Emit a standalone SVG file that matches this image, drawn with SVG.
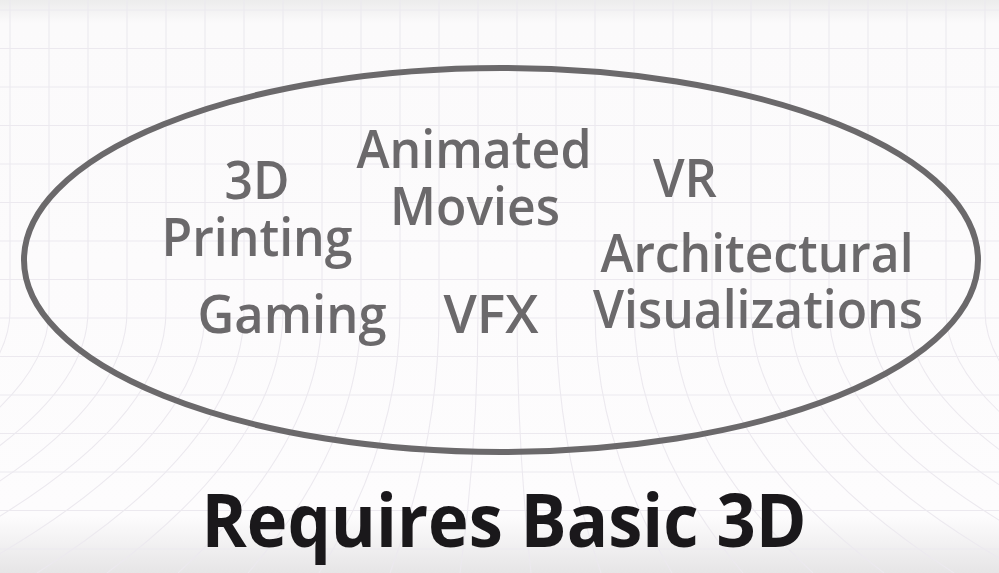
<svg xmlns="http://www.w3.org/2000/svg" width="999" height="573" viewBox="0 0 999 573">
<defs>
<linearGradient id="bg" x1="0" y1="0" x2="0" y2="1">
<stop offset="0" stop-color="#ececec"/>
<stop offset="0.04" stop-color="#fbfafb"/>
<stop offset="0.9" stop-color="#fdfcfd"/>
<stop offset="1" stop-color="#e6e5e6"/>
</linearGradient>
<style>
.grid{fill:none;stroke:#ece9ef;stroke-width:1.1}
.lbl{font-family:"Open Sans","Noto Sans",sans-serif;font-weight:600;font-size:52px;fill:#6b696b;text-anchor:middle}
.title{font-family:"Open Sans","Noto Sans",sans-serif;font-weight:700;font-size:73px;fill:#1a181b;text-anchor:middle}
</style>
</defs>
<rect x="0" y="0" width="999" height="573" fill="url(#bg)"/>
<g id="grid" class="grid">
<path d="M10 0V311Q10 442 -387 573M49 0V311Q49 442 -316 573M88 0V311Q88 442 -246 573M127 0V311Q127 442 -175 573M166 0V311Q166 442 -105 573M205 0V311Q205 442 -34 573M244 0V311Q244 442 37 573M283 0V311Q283 442 107 573M322 0V311Q322 442 178 573M361 0V311Q361 442 248 573M400 0V311Q400 442 319 573M439 0V311Q439 442 390 573M478 0V311Q478 442 460 573M517 0V311Q517 442 531 573M556 0V311Q556 442 601 573M595 0V311Q595 442 672 573M634 0V311Q634 442 743 573M673 0V311Q673 442 813 573M712 0V311Q712 442 884 573M751 0V311Q751 442 954 573M790 0V311Q790 442 1025 573M829 0V311Q829 442 1096 573M868 0V311Q868 442 1166 573M907 0V311Q907 442 1237 573M946 0V311Q946 442 1307 573M985 0V311Q985 442 1378 573"/>
<path d="M0 10H999M0 48.5H999M0 87H999M0 125.5H999M0 164H999M0 202.5H999M0 241H999M0 279.5H999M0 318H999M0 356.5H999M0 395H999M0 433.5H999M0 472H999M0 510.5H999M0 549H999"/>
</g>
<g id="ellipse">
<ellipse cx="501" cy="260" rx="477" ry="192" fill="none" stroke="#6b696b" stroke-width="6"/>
</g>
<g id="n-3dprinting">
<text class="lbl" x="257" y="199" textLength="65" lengthAdjust="spacingAndGlyphs">3D</text>
<text class="lbl" x="257" y="256" textLength="191" lengthAdjust="spacingAndGlyphs">Printing</text>
</g>
<g id="n-animated">
<text class="lbl" x="474" y="168" textLength="235" lengthAdjust="spacingAndGlyphs">Animated</text>
<text class="lbl" x="475" y="225" textLength="170" lengthAdjust="spacingAndGlyphs">Movies</text>
</g>
<g id="n-vr">
<text class="lbl" x="685" y="197" textLength="64" lengthAdjust="spacingAndGlyphs">VR</text>
</g>
<g id="n-arch">
<text class="lbl" x="757" y="272" textLength="313" lengthAdjust="spacingAndGlyphs">Architectural</text>
<text class="lbl" x="758" y="328" textLength="330" lengthAdjust="spacingAndGlyphs">Visualizations</text>
</g>
<g id="n-gaming">
<text class="lbl" x="292" y="333" textLength="189" lengthAdjust="spacingAndGlyphs">Gaming</text>
</g>
<g id="n-vfx">
<text class="lbl" x="491" y="333" textLength="95" lengthAdjust="spacingAndGlyphs">VFX</text>
</g>
<g id="title">
<text class="title" x="504" y="547" textLength="605" lengthAdjust="spacingAndGlyphs">Requires Basic 3D</text>
</g>
</svg>
